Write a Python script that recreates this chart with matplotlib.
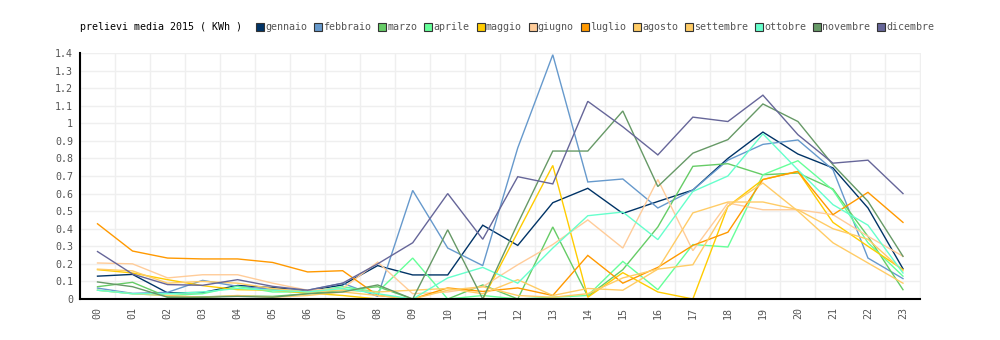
import matplotlib
matplotlib.use("Agg")
import matplotlib.pyplot as plt
from matplotlib.patches import Rectangle
from matplotlib.ticker import MultipleLocator, FuncFormatter

# Average hourly withdrawal per month, 2015 (kWh)
hours = [f"{h:02d}" for h in range(24)]

gennaio = [0.13, 0.14, 0.035, 0.037, 0.077, 0.065, 0.047, 0.08, 0.19, 0.137, 0.137, 0.42,
           0.305, 0.548, 0.63, 0.487, 0.555, 0.62, 0.80, 0.95, 0.825, 0.746, 0.518, 0.172]
febbraio = [0.062, 0.032, 0.038, 0.106, 0.072, 0.055, 0.05, 0.09, 0.015, 0.618, 0.29, 0.19,
            0.86, 1.39, 0.666, 0.683, 0.518, 0.62, 0.79, 0.88, 0.905, 0.736, 0.233, 0.116]
marzo = [0.07, 0.095, 0.012, 0.012, 0.018, 0.015, 0.03, 0.05, 0.07, 0.0, 0.0, 0.08,
         0.0, 0.41, 0.015, 0.167, 0.41, 0.755, 0.77, 0.707, 0.717, 0.626, 0.356, 0.053]
aprile = [0.05, 0.03, 0.02, 0.03, 0.072, 0.04, 0.04, 0.07, 0.04, 0.233, 0.0, 0.02,
          0.0, 0.01, 0.02, 0.214, 0.053, 0.31, 0.296, 0.707, 0.787, 0.62, 0.32, 0.13]
maggio = [0.167, 0.148, 0.11, 0.076, 0.053, 0.05, 0.034, 0.02, 0.0, 0.0, 0.0, 0.0,
          0.38, 0.76, 0.01, 0.15, 0.04, 0.0, 0.527, 0.68, 0.726, 0.436, 0.30, 0.167]
giugno = [0.205, 0.20, 0.12, 0.138, 0.138, 0.09, 0.05, 0.06, 0.21, 0.03, 0.04, 0.07,
          0.195, 0.31, 0.45, 0.29, 0.68, 0.275, 0.546, 0.508, 0.508, 0.48, 0.357, 0.243]
luglio = [0.428, 0.273, 0.233, 0.228, 0.228, 0.208, 0.154, 0.161, 0.02, 0.0, 0.063, 0.043,
          0.063, 0.02, 0.248, 0.09, 0.18, 0.305, 0.38, 0.68, 0.726, 0.48, 0.607, 0.436]
agosto = [0.17, 0.16, 0.09, 0.10, 0.09, 0.06, 0.04, 0.05, 0.04, 0.05, 0.06, 0.03,
          0.11, 0.02, 0.06, 0.05, 0.17, 0.49, 0.552, 0.552, 0.508, 0.40, 0.34, 0.16]
settembre = [0.05, 0.03, 0.02, 0.01, 0.02, 0.01, 0.02, 0.04, 0.02, 0.0, 0.05, 0.07,
             0.02, 0.01, 0.03, 0.12, 0.17, 0.195, 0.527, 0.66, 0.50, 0.32, 0.205, 0.09]
ottobre = [0.05, 0.03, 0.03, 0.04, 0.06, 0.05, 0.04, 0.06, 0.03, 0.0, 0.12, 0.18,
           0.09, 0.29, 0.474, 0.495, 0.338, 0.612, 0.70, 0.94, 0.735, 0.537, 0.42, 0.148]
novembre = [0.097, 0.07, 0.01, 0.01, 0.015, 0.01, 0.03, 0.04, 0.08, 0.0, 0.394, 0.0,
            0.43, 0.842, 0.842, 1.07, 0.64, 0.83, 0.907, 1.11, 1.01, 0.764, 0.556, 0.243]
dicembre = [0.27, 0.142, 0.082, 0.078, 0.11, 0.072, 0.05, 0.09, 0.2, 0.32, 0.60, 0.34,
            0.696, 0.655, 1.125, 0.98, 0.82, 1.035, 1.01, 1.16, 0.935, 0.773, 0.79, 0.60]

month_names = ["gennaio", "febbraio", "marzo", "aprile", "maggio", "giugno",
               "luglio", "agosto", "settembre", "ottobre", "novembre", "dicembre"]
month_values = [gennaio, febbraio, marzo, aprile, maggio, giugno,
                luglio, agosto, settembre, ottobre, novembre, dicembre]
month_colors = ["#003366", "#6699CC", "#66CC66", "#66FF99", "#FFCC00", "#FFCC99",
                "#FF9900", "#FFCC66", "#FFCC66", "#66FFCC", "#669966", "#666699"]

title = "prelievi media 2015 ( KWh )"

MONO = "DejaVu Sans Mono"
FS = 7.2

W, H = 1000, 340
fig = plt.figure(figsize=(W / 100, H / 100), dpi=100)
fig.patch.set_facecolor("white")

left, right, top, bottom = 80, 920.5, 53, 299
ax = fig.add_axes([left / W, 1 - bottom / H, (right - left) / W, (bottom - top) / H])

x = list(range(len(hours)))
for vals, col in zip(month_values, month_colors):
    ax.plot(x, vals, color=col, lw=1.0, solid_joinstyle="miter", zorder=3)

ax.set_xlim(-0.5, len(hours) - 0.5)
ax.set_ylim(0, 1.4)

ax.set_xticks(x)
ax.set_xticklabels(hours, rotation=90, family=MONO, fontsize=FS, color="#555555")
ax.set_xticks([i - 0.5 for i in range(len(hours) + 1)], minor=True)
ax.yaxis.set_major_locator(MultipleLocator(0.1))
ax.yaxis.set_major_formatter(FuncFormatter(lambda v, p: f"{round(v, 1):g}"))
for lab in ax.get_yticklabels():
    lab.set_family(MONO)
    lab.set_fontsize(FS)
    lab.set_color("#555555")

ax.tick_params(axis="both", which="both", length=0)
ax.tick_params(axis="y", pad=5)
ax.tick_params(axis="x", pad=6)

ax.grid(False)
ax.grid(axis="y", which="major", color="#efefef", lw=1.0, zorder=0)
ax.grid(axis="x", which="minor", color="#efefef", lw=1.0, zorder=0)

for s in ("top", "right"):
    ax.spines[s].set_visible(False)
for s in ("left", "bottom"):
    ax.spines[s].set_color("black")
    ax.spines[s].set_linewidth(1.5)
    ax.spines[s].set_zorder(5)

# Header: title followed by a row of colour keys
ty = 1 - 27 / H
fig.text(80 / W, ty, title, family=MONO, fontsize=FS, color="black",
         ha="left", va="center")
px = 256
char_w = 6.02
for name, col in zip(month_names, month_colors):
    fig.patches.append(Rectangle((px / W, 1 - 31 / H), 8 / W, 8 / H,
                                 transform=fig.transFigure, facecolor=col,
                                 edgecolor="#333333", lw=0.8))
    fig.text((px + 9) / W, ty, name, family=MONO, fontsize=FS, color="#555555",
             ha="left", va="center")
    px = px + 9 + len(name) * char_w + 7

fig.savefig("out.png", dpi=100, facecolor="white")
